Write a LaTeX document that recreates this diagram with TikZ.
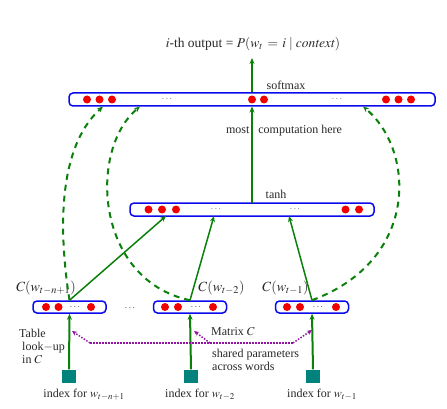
\documentclass[tikz,border=0pt]{standalone}
\usepackage{mathptmx}
\usepackage{fontspec}
\setmainfont{Liberation Serif}
\usetikzlibrary{arrows.meta}
\definecolor{dgreen}{RGB}{10,128,10}
\definecolor{bblue}{RGB}{10,10,235}
\definecolor{tealsq}{RGB}{0,130,125}
\definecolor{purp}{RGB}{145,20,160}
\definecolor{rdot}{RGB}{240,0,0}
\definecolor{txt}{RGB}{40,40,40}
\begin{document}
\begin{tikzpicture}[x=1pt,y=-1pt,
  bar/.style={draw=bblue, line width=1.5pt, rounded corners=4pt, minimum height=13pt, inner sep=0pt, fill=white},
  cbox/.style={bar, minimum width=73pt, minimum height=12pt},
  rdotn/.style={circle, fill=rdot, inner sep=0pt, minimum size=8pt},
  gdots/.style={inner sep=0pt, text=gray, font=\fontsize{10}{12}\selectfont},
  kdots/.style={inner sep=0pt, text=black!70, font=\fontsize{10}{12}\selectfont},
  lbl/.style={inner sep=0pt, text=txt, font=\fontsize{12}{14}\selectfont},
  mlbl/.style={inner sep=0pt, text=txt, font=\fontsize{14}{16}\selectfont},
  garrow/.style={draw=dgreen, line width=1.5pt, -{Stealth[length=6pt,width=5pt]}},
  gthick/.style={draw=dgreen, line width=2.5pt, -{Stealth[length=6pt,width=5pt]}},
  gdash/.style={draw=dgreen, line width=2pt, dash pattern=on 6pt off 5pt, -{Stealth[length=6pt,width=5pt]}},
  pdot/.style={draw=purp, line width=1.5pt, dash pattern=on 1.5pt off 1.5pt},
  parrow/.style={pdot, -{Stealth[length=5pt,width=4.5pt]}},
  sq/.style={fill=tealsq, minimum width=14pt, minimum height=13pt, inner sep=0pt}
]
\useasboundingbox (0,0) rectangle (447,409);

% output text
\node[lbl, font=\fontsize{13.5}{16}\selectfont] (out) at (253,44) {$i$-th output = $P(w_t \,=\, i \mid \mathit{context})$};

% softmax bar
\node[bar, minimum width=366pt] (soft) at (252,99.5) {};
\node[rdotn] (s1) at (87,99.5) {};
\node[rdotn] (s2) at (99.5,99.5) {};
\node[rdotn] (s3) at (112,99.5) {};
\node[gdots] (sd1) at (167,99) {$\cdots$};
\node[rdotn] (s4) at (252,99.5) {};
\node[rdotn] (s5) at (264,99.5) {};
\node[gdots] (sd2) at (337,99) {$\cdots$};
\node[rdotn] (s6) at (386,99.5) {};
\node[rdotn] (s7) at (398.5,99.5) {};
\node[rdotn] (s8) at (411,99.5) {};
\node[lbl] (softlbl) at (286,85) {softmax};

% tanh bar
\node[bar, minimum width=244pt] (tanh) at (252,209.5) {};
\node[rdotn] (h1d) at (148.5,209.5) {};
\node[rdotn] (h2d) at (162,209.5) {};
\node[rdotn] (h3d) at (176,209.5) {};
\node[gdots] (hd1) at (216,209) {$\cdots$};
\node[gdots] (hd2) at (295,209) {$\cdots$};
\node[rdotn] (h4d) at (345.5,209.5) {};
\node[rdotn] (h5d) at (359,209.5) {};
\node[lbl] (tanhlbl) at (276,194) {tanh};

\node[lbl] (most) at (284,131) {most\hspace{6pt} computation here};

% C boxes
\node[cbox] (c1) at (69.5,307) {};
\node[rdotn] (c1a) at (46,307) {};
\node[rdotn] (c1b) at (58.5,307) {};
\node[kdots] (c1d) at (75,307) {$\cdots$};
\node[rdotn] (c1c) at (91,307) {};
\node[cbox] (c2) at (190,307) {};
\node[rdotn] (c2a) at (165,307) {};
\node[rdotn] (c2b) at (178,307) {};
\node[kdots] (c2d) at (196,307) {$\cdots$};
\node[rdotn] (c2c) at (213,307) {};
\node[cbox] (c3) at (312,307) {};
\node[rdotn] (c3a) at (287,307) {};
\node[rdotn] (c3b) at (300,307) {};
\node[kdots] (c3d) at (318,307) {$\cdots$};
\node[rdotn] (c3c) at (336,307) {};
\node[kdots] (cdots) at (130,308) {$\cdots$};

\node[mlbl] (cl1) at (46,288) {$C(w_{t-n+1})$};
\node[mlbl] (cl2) at (221.5,288) {$C(w_{t-2})$};
\node[mlbl] (cl3) at (285.5,288) {$C(w_{t-1})$};

% index squares
\node[sq] (q1) at (69,376) {};
\node[sq] (q2) at (191,376) {};
\node[sq] (q3) at (313,376) {};
\node[lbl] (i1) at (84,395) {index for $w_{t-n+1}$};
\node[lbl] (i2) at (200,395) {index for $w_{t-2}$};
\node[lbl] (i3) at (322,395) {index for $w_{t-1}$};

\node[lbl, align=left, anchor=west] (table) at (19,346) {Table\\[-1pt] \ look$-$up\\[-1pt] \ in $C$};
\node[lbl, anchor=west] (matrix) at (211,332) {Matrix $C$};
\node[lbl, align=left, anchor=west] (shared) at (212,359.5) {shared parameters\\[-1pt] across words};

% coordinates on bars
\coordinate (t1) at (166,216);
\coordinate (t2) at (214,216);
\coordinate (t3) at (289,216);
\coordinate (sb1) at (103,106.5);
\coordinate (sb2) at (140,106.5);
\coordinate (sb3) at (363,106.5);
\coordinate (tt) at (252,203);
\coordinate (sbm) at (252,106.5);
\coordinate (outtip) at (252,58);

% arrows
\draw[gthick] (soft.north) -- (outtip);
\draw[gthick] (tt) -- (sbm);
\draw[garrow] (c1.north) -- (t1);
\draw[garrow] (c2.north) -- (t2);
\draw[garrow] (c3.north) -- (t3);
\draw[gthick, line width=2pt] (q1.north) -- (c1.south);
\draw[gthick, line width=2pt] (q2.north) -- (c2.south);
\draw[gthick, line width=2pt] (q3.north) -- (c3.south);

% dashed direct connections
\draw[gdash] (c1.north) .. controls (60,240) and (55,150) .. (sb1);
\draw[gdash] (c2.north) .. controls (95,280) and (88,150) .. (sb2);
\draw[gdash] (c3.north) .. controls (420,260) and (415,150) .. (sb3);

% shared parameters
\coordinate (p1) at (90,343);
\coordinate (pm) at (210,343);
\coordinate (p2) at (293,343);
\coordinate (a1) at (72,331);
\coordinate (a2) at (194,331);
\coordinate (a3) at (312,330);
\draw[pdot] (p1) -- (p2);
\draw[parrow] (p1) -- (a1);
\draw[parrow] (pm) -- (a2);
\draw[parrow] (p2) -- (a3);
\end{tikzpicture}
\end{document}
